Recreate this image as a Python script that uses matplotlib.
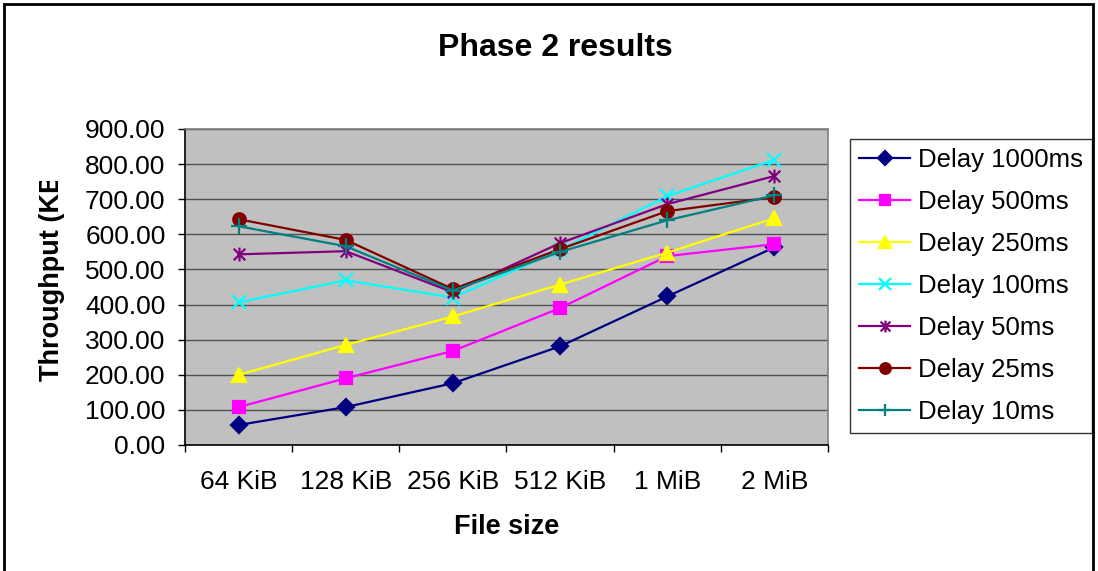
import numpy as np
import matplotlib
matplotlib.use('Agg')
import matplotlib.pyplot as plt
from matplotlib.path import Path
from matplotlib.patches import Rectangle
from matplotlib.transforms import Bbox, TransformedBbox

plt.rcParams['font.family'] = ['Liberation Sans', 'DejaVu Sans']

W, H = 1098, 571

categories = ['64 KiB', '128 KiB', '256 KiB', '512 KiB', '1 MiB', '2 MiB']
d1000 = [57, 108, 176, 281, 423, 563]
d500 = [108, 190, 268, 390, 538, 572]
d250 = [200, 285, 366, 457, 548, 646]
d100 = [406, 469, 420, 555, 709, 812]
d50 = [543, 552, 435, 575, 686, 766]
d25 = [643, 584, 444, 558, 666, 706]
d10 = [623, 566, 440, 550, 640, 711]

# Excel style asterisk: X plus vertical bar
star = Path([(-1, -1), (1, 1), (-1, 1), (1, -1), (0, -1.2), (0, 1.2)],
            [Path.MOVETO, Path.LINETO, Path.MOVETO, Path.LINETO, Path.MOVETO, Path.LINETO])

series = [
    ('Delay 1000ms', d1000, '#000080', 'D', 8),
    ('Delay 500ms', d500, '#FF00FF', 's', 9),
    ('Delay 250ms', d250, '#FFFF00', '^', 10),
    ('Delay 100ms', d100, '#00FFFF', 'x', 10),
    ('Delay 50ms', d50, '#800080', star, 10),
    ('Delay 25ms', d25, '#800000', 'o', 9),
    ('Delay 10ms', d10, '#008080', '+', 11),
]

fig = plt.figure(figsize=(W / 100, H / 100), dpi=100)
ax = fig.add_axes([185 / W, 1 - 445 / H, (828 - 185) / W, (445 - 129) / H])
ax.set_facecolor('#C0C0C0')

x = np.arange(len(categories))
for lb, vals, clr, mk, ms in series:
    ax.plot(x, vals, color=clr, lw=1.6, marker=mk, markersize=ms,
            markerfacecolor=clr, markeredgecolor=clr, markeredgewidth=1.6, label=lb)

ax.set_xlim(-0.5, len(categories) - 0.5)
ax.set_ylim(0, 900)
ax.set_yticks(np.arange(0, 901, 100))
ax.set_yticklabels([f'{v:.2f}' for v in np.arange(0, 901, 100)])
ax.yaxis.grid(True, color='#505050', lw=1.0)
ax.set_axisbelow(True)
ax.set_xticks(x)
ax.set_xticklabels(categories)
ax.set_xticks(np.arange(-0.5, len(categories), 1.0), minor=True)
ax.tick_params(axis='x', which='major', length=0, pad=18, labelsize=19)
ax.tick_params(axis='x', which='minor', length=5, width=1, direction='out')
ax.tick_params(axis='y', length=5, width=1, pad=9, labelsize=19)
for s in ['left', 'bottom']:
    ax.spines[s].set_color('black'); ax.spines[s].set_linewidth(1.2)
for s in ['top', 'right']:
    ax.spines[s].set_color('#808080'); ax.spines[s].set_linewidth(1.2)

leg = ax.legend(loc='upper left', bbox_to_anchor=(850 / W, 1 - 139 / H),
                bbox_transform=fig.transFigure, borderaxespad=0, fontsize=18.5,
                fancybox=False, frameon=True, edgecolor='black', handlelength=2.0,
                handletextpad=0.3, labelspacing=0.7, borderpad=0.35, markerscale=0.85)
leg.get_frame().set_linewidth(1.0)

fig.text(555 / W, 1 - 48 / H, 'Phase 2 results', fontsize=23, fontweight='bold',
         ha='center', va='center')
fig.text(507 / W, 1 - 527 / H, 'File size', fontsize=19.5, fontweight='bold',
         ha='center', va='center')
yl = fig.text(52 / W, 1 - 381 / H, 'Throughput (KB/s)', fontsize=19.5, fontweight='bold',
              rotation=90, ha='center', va='bottom')
yl.set_clip_box(TransformedBbox(Bbox.from_extents(0, 0, 1, 1 - 181 / H), fig.transFigure))
yl.set_clip_on(True)

# outer chart border
fig.patches.append(Rectangle((4 / W, -0.05), (1093 - 4) / W, 1.05 - 4 / H,
                             transform=fig.transFigure, fill=False,
                             edgecolor='black', lw=2))

plt.savefig('out.png', dpi=100)
